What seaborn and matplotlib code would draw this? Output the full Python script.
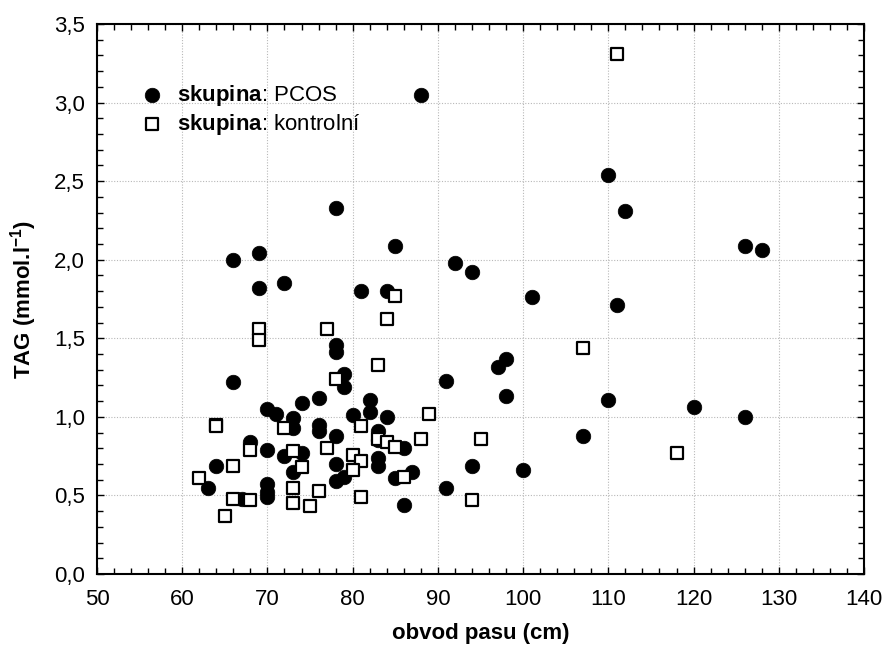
import matplotlib
matplotlib.use("Agg")
import matplotlib.pyplot as plt
from matplotlib.ticker import MultipleLocator, FuncFormatter
import seaborn as sns
import pandas as pd

# PCOS group (filled circles)
pcos_x = [88, 110, 112, 78, 126, 128, 85, 69, 66, 92, 94, 72, 69, 81, 84, 101, 111,
          78, 78, 98, 97, 79, 91, 66, 79, 98, 76, 82, 110, 74, 120, 70, 82, 71, 80,
          84, 126, 73, 76, 73, 76, 83, 78, 107, 83, 68, 86, 70, 74, 72, 83, 78, 83,
          64, 94, 100, 73, 87, 79, 85, 78, 70, 63, 91, 70, 70, 67, 86]
pcos_y = [3.05, 2.54, 2.31, 2.33, 2.09, 2.06, 2.09, 2.04, 2.00, 1.98, 1.92, 1.85, 1.82,
          1.80, 1.80, 1.76, 1.71, 1.46, 1.41, 1.37, 1.32, 1.27, 1.23, 1.22, 1.19, 1.13,
          1.12, 1.11, 1.11, 1.09, 1.06, 1.05, 1.03, 1.02, 1.01, 1.00, 1.00, 0.99, 0.95,
          0.93, 0.91, 0.91, 0.88, 0.88, 0.85, 0.84, 0.80, 0.79, 0.77, 0.75, 0.74, 0.70,
          0.69, 0.69, 0.69, 0.66, 0.65, 0.65, 0.62, 0.61, 0.59, 0.57, 0.55, 0.55, 0.52,
          0.49, 0.48, 0.44]

# Control group (open squares)
ctrl_x = [111, 85, 84, 69, 77, 69, 107, 83, 78, 89, 64, 64, 81, 72, 83, 88, 95, 84, 85,
          77, 68, 73, 118, 80, 81, 74, 66, 80, 86, 62, 73, 76, 81, 66, 68, 94, 73, 75, 65]
ctrl_y = [3.31, 1.77, 1.62, 1.56, 1.56, 1.49, 1.44, 1.33, 1.24, 1.02, 0.95, 0.94, 0.94,
          0.93, 0.86, 0.86, 0.86, 0.84, 0.81, 0.80, 0.79, 0.78, 0.77, 0.76, 0.72, 0.68,
          0.69, 0.66, 0.62, 0.61, 0.55, 0.53, 0.49, 0.48, 0.47, 0.47, 0.45, 0.43, 0.37]

x_ticks = [50, 60, 70, 80, 90, 100, 110, 120, 130, 140]
y_ticks = [0.0, 0.5, 1.0, 1.5, 2.0, 2.5, 3.0, 3.5]

sns.set_style("white")
plt.rcParams["font.family"] = ["Liberation Sans", "DejaVu Sans"]
plt.rcParams["mathtext.fontset"] = "custom"
plt.rcParams["mathtext.rm"] = "Liberation Sans"
plt.rcParams["mathtext.bf"] = "Liberation Sans:bold"
plt.rcParams["mathtext.it"] = "Liberation Sans:italic"
plt.rcParams["text.color"] = "black"
plt.rcParams["axes.labelcolor"] = "black"
plt.rcParams["xtick.color"] = "black"
plt.rcParams["ytick.color"] = "black"

df_p = pd.DataFrame({"x": pcos_x, "y": pcos_y})
df_c = pd.DataFrame({"x": ctrl_x, "y": ctrl_y})

fig = plt.figure(figsize=(8.87, 6.54), dpi=100)
ax = fig.add_axes([97 / 887, 1 - 574 / 654, (864 - 97) / 887, (574 - 24) / 654])

sns.scatterplot(data=df_p, x="x", y="y", ax=ax, marker="o", s=110, color="black",
                edgecolor="black", linewidth=0.5, label=r"$\mathbf{skupina}$: PCOS",
                zorder=3)
sns.scatterplot(data=df_c, x="x", y="y", ax=ax, marker="s", s=85, color="white",
                edgecolor="black", linewidth=1.6, label=r"$\mathbf{skupina}$: kontrolní",
                zorder=4)

ax.set_xlim(50, 140)
ax.set_ylim(0, 3.5)
ax.set_xticks(x_ticks)
ax.set_yticks(y_ticks)
ax.xaxis.set_minor_locator(MultipleLocator(2))
ax.yaxis.set_minor_locator(MultipleLocator(0.1))
ax.yaxis.set_major_formatter(FuncFormatter(lambda v, p: f"{v:.1f}".replace(".", ",")))
ax.xaxis.set_major_formatter(FuncFormatter(lambda v, p: f"{int(v)}"))

ax.grid(True, which="major", color="#b8b8b8", linestyle=(0, (1, 1.5)), linewidth=0.8)
ax.set_axisbelow(True)

for sp in ax.spines.values():
    sp.set_visible(True)
    sp.set_color("black")
    sp.set_linewidth(1.5)

ax.tick_params(which="both", direction="in", top=True, right=True, bottom=True, left=True,
               color="black", width=1.0)
ax.tick_params(which="major", length=5, labelsize=16, labelcolor="black")
ax.tick_params(axis="x", which="major", pad=11)
ax.tick_params(axis="y", which="major", pad=8.5)
ax.tick_params(which="minor", length=4)

ax.set_xlabel("obvod pasu (cm)", fontsize=16, fontweight="bold", color="black")
ax.set_ylabel(r"TAG (mmol.l$^{\mathbf{-1}}$)", fontsize=16, fontweight="bold", color="black")
ax.xaxis.set_label_coords(0.5, -0.09)
ax.yaxis.set_label_coords(-0.075, 0.5)

leg = ax.legend(loc="upper left", bbox_to_anchor=(0.0574, 0.893), frameon=False, fontsize=16,
                handlelength=1.0, handletextpad=0.6, labelspacing=0.2,
                borderaxespad=0.0, borderpad=0.0, markerscale=1.0)
for t in leg.get_texts():
    t.set_color("black")

fig.savefig("out.png", dpi=100)
